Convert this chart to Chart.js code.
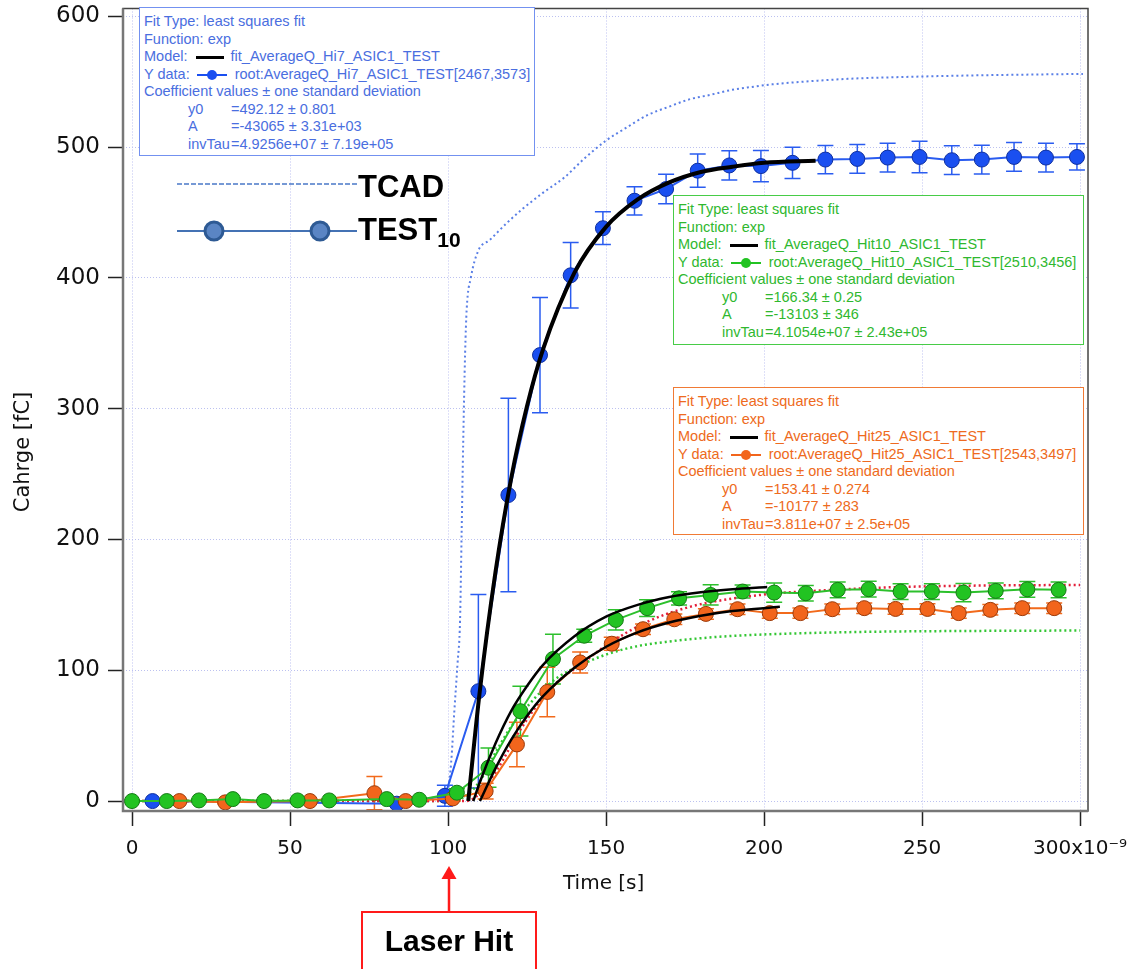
<!DOCTYPE html>
<html lang="en">
<head>
<meta charset="UTF-8">
<title>Average charge vs time</title>
<script src="https://cdn.jsdelivr.net/npm/chart.js"></script>
<style>
  body { margin: 0; background: #fff; }
  #wrap { position: relative; width: 1128px; height: 969px; overflow: hidden; }
  canvas, svg { position: absolute; left: 0; top: 0; }
  .fitbox { position: absolute; background: #fff; border: 1.5px solid; box-sizing: border-box;
            font-family: "Liberation Sans", Arial, sans-serif; font-size: 14.5px; line-height: 17.5px;
            padding: 5px 0 0 4px; white-space: nowrap; }
  .fitbox .ind { padding-left: 44px; }
  .fitbox .nm { display: inline-block; width: 43px; }
  .sw-line { display: inline-block; width: 28px; height: 3px; background: #000; vertical-align: middle; margin: 0 7px 0 4px; }
  .sw-pt { display: inline-block; position: relative; width: 30px; height: 2px; vertical-align: middle; margin: 0 8px 0 3px; }
  .sw-pt i { position: absolute; left: 10px; top: -4px; width: 10px; height: 10px; border-radius: 50%; background: inherit; }
  .big { position: absolute; font-family: "Liberation Sans", Arial, sans-serif; font-weight: bold; font-size: 31px; line-height: 31px; color: #000; }
  .big span { font-size: 21px; position: relative; top: 7px; }
  #laser { position: absolute; left: 361px; top: 911px; width: 176px; height: 70px; box-sizing: border-box;
           border: 2px solid #ff1a1a; text-align: center; padding-top: 13px;
           font-family: "Liberation Sans", Arial, sans-serif; font-weight: bold; font-size: 30px; line-height: 30px; }
</style>
</head>
<body>
<div id="wrap">
  <canvas id="chart" width="1128" height="969"></canvas>
  <svg width="1128" height="969">
    <line x1="177" y1="184" x2="357" y2="184" stroke="#4a78c8" stroke-width="1.6" stroke-dasharray="5 2"/>
    <line x1="177" y1="231" x2="357" y2="231" stroke="#4472b4" stroke-width="2"/>
    <circle cx="214" cy="231" r="9" fill="#5a85c4" stroke="#2e5a94" stroke-width="3"/>
    <circle cx="320" cy="231" r="9" fill="#5a85c4" stroke="#2e5a94" stroke-width="3"/>
    <line x1="449" y1="911" x2="449" y2="876" stroke="#ff1a1a" stroke-width="2.5"/>
    <polygon points="449,866 441.5,879 456.5,879" fill="#ff1a1a"/>
  </svg>

  <div class="fitbox" style="left:139px;top:7px;width:396px;height:149px;color:#4a6ee0;border-color:#7391f0">
    <div>Fit Type: least squares fit</div>
    <div>Function: exp</div>
    <div>Model: <span class="sw-line"></span>fit_AverageQ_Hi7_ASIC1_TEST</div>
    <div>Y data: <span class="sw-pt" style="background:#1a4ff0"><i></i></span>root:AverageQ_Hi7_ASIC1_TEST[2467,3573]</div>
    <div>Coefficient values ± one standard deviation</div>
    <div class="ind"><span class="nm">y0</span>=492.12 ± 0.801</div>
    <div class="ind"><span class="nm">A</span>=-43065 ± 3.31e+03</div>
    <div class="ind"><span class="nm">invTau</span>=4.9256e+07 ± 7.19e+05</div>
  </div>

  <div class="fitbox" style="left:673px;top:195px;width:411px;height:150px;color:#2fb82f;border-color:#48cc48">
    <div>Fit Type: least squares fit</div>
    <div>Function: exp</div>
    <div>Model: <span class="sw-line"></span>fit_AverageQ_Hit10_ASIC1_TEST</div>
    <div>Y data: <span class="sw-pt" style="background:#22c322"><i></i></span>root:AverageQ_Hit10_ASIC1_TEST[2510,3456]</div>
    <div>Coefficient values ± one standard deviation</div>
    <div class="ind"><span class="nm">y0</span>=166.34 ± 0.25</div>
    <div class="ind"><span class="nm">A</span>=-13103 ± 346</div>
    <div class="ind"><span class="nm">invTau</span>=4.1054e+07 ± 2.43e+05</div>
  </div>

  <div class="fitbox" style="left:673px;top:387px;width:411px;height:148px;color:#ee6a20;border-color:#f07a35">
    <div>Fit Type: least squares fit</div>
    <div>Function: exp</div>
    <div>Model: <span class="sw-line"></span>fit_AverageQ_Hit25_ASIC1_TEST</div>
    <div>Y data: <span class="sw-pt" style="background:#f2651c"><i></i></span>root:AverageQ_Hit25_ASIC1_TEST[2543,3497]</div>
    <div>Coefficient values ± one standard deviation</div>
    <div class="ind"><span class="nm">y0</span>=153.41 ± 0.274</div>
    <div class="ind"><span class="nm">A</span>=-10177 ± 283</div>
    <div class="ind"><span class="nm">invTau</span>=3.811e+07 ± 2.5e+05</div>
  </div>

  <div class="big" style="left:358px;top:171px">TCAD</div>
  <div class="big" style="left:358px;top:214px">TEST<span>10</span></div>
  <div id="laser">Laser Hit</div>
</div>

<script>
  const xTicks = [0, 50, 100, 150, 200, 250, 300];
  const yTicks = [0, 100, 200, 300, 400, 500, 600];

  // TCAD simulation (blue dotted)
  const tcadTime   = [0, 97, 99, 100, 101, 102, 103, 103.8, 104.3, 104.8, 105.4, 105.9, 107.2, 109.6, 113.2, 118.6, 123.7, 130, 136.9, 143, 150, 156.5, 163.1, 170, 176.3, 183, 189.4, 196, 202.5, 215, 228.8, 242, 255, 270, 285, 300.9];
  const tcadCharge = [0, 0, 3, 8, 30, 69, 105, 138, 205, 274, 342, 376, 400, 421, 429, 442, 453, 465, 477, 491, 505, 515, 524.5, 531, 536.5, 540, 543.6, 546, 548, 550.5, 552.5, 553.5, 554.3, 555, 555.5, 556];

  // dotted green and red reference curves
  const simGreenTime   = [0, 102, 105, 110, 115, 120, 125, 130, 135, 142, 150, 160, 170, 180, 190, 205, 230, 260, 300];
  const simGreenCharge = [0, 0, 3, 15, 37, 57, 72, 85, 95, 104, 112, 118.5, 122, 124.5, 126.3, 127.8, 129.3, 130, 130.4];
  const simRedTime   = [0, 105, 107.4, 110, 115, 123, 130, 135, 141.8, 150, 163, 176.8, 190.5, 204.3, 218, 231.8, 245, 259.3, 280, 300];
  const simRedCharge = [0, 0, 1, 6, 22, 55, 79, 92, 104, 119, 137, 148.7, 155, 158.9, 161, 162.7, 163.8, 164.5, 165, 165.2];

  // measured average charge, Hit7 (blue)
  const hit7Time   = [6.5, 83.8, 99, 109.6, 119.1, 129.1, 138.8, 149, 159, 169, 179, 189, 199, 209, 219.4, 229.5, 239.1, 249.2, 259.4, 268.9, 279.1, 289.2, 299];
  const hit7Charge = [0, -2, 4, 84, 234, 341, 402, 438, 459, 468, 482, 486, 485.5, 488, 490.5, 491, 492, 492.5, 490, 490.5, 492.5, 492, 492.5];
  const hit7Err    = [1, 2, 8, 74, 74, 44, 25, 12.5, 10.8, 11.2, 12.7, 11.2, 12, 12, 10.8, 11, 11, 12, 11, 11, 11, 11, 10];

  // Hit10 (green)
  const hit10Time   = [0, 11, 21.2, 31.9, 41.8, 52.4, 62.4, 80.6, 90.9, 102.8, 112.8, 122.9, 133.2, 143.1, 153.1, 163, 173.1, 183.1, 193.2, 203.2, 213.2, 223.3, 233.1, 243.2, 253.1, 263.1, 273.3, 283.3, 293.2];
  const hit10Charge = [0, 0, 0.5, 1.5, 0, 0.5, 0.5, 1.5, 1, 6.4, 25.5, 68.7, 108.6, 126.4, 138.5, 147.5, 155, 157.6, 160.2, 159.4, 158.9, 161.5, 162, 160.2, 160.2, 159.4, 160.7, 161.9, 161.5];
  const hit10Err    = [1, 1, 1, 1, 1, 1, 1, 1, 1, 3, 15, 19, 19, 5, 7.7, 6.4, 5, 7.7, 5, 7.3, 6, 6, 6, 6, 6, 7, 6, 6, 6];

  // Hit25 (orange)
  const hit25Time   = [15, 29.5, 56.3, 76.7, 86.6, 101.5, 111.9, 121.8, 131.4, 141.8, 151.8, 161.7, 171.6, 181.6, 191.6, 201.8, 211.5, 221.6, 231.7, 241.6, 251.7, 261.6, 271.6, 281.7, 291.8];
  const hit25Charge = [0, -1, 0, 6, 0, 2, 7.6, 43.3, 83.4, 106, 120.3, 131.4, 139, 143.1, 146.7, 143.7, 143.7, 146.7, 147.5, 146.9, 146.9, 143.7, 146.2, 147.5, 147.5];
  const hit25Err    = [1, 1, 1, 12.7, 1, 2, 6, 17, 19, 8, 5, 4, 4, 4, 4, 4, 4, 4, 4, 4, 4, 4, 4, 4, 4];

  // exp fits (black)
  const fit7Time    = [106.4, 110, 115, 120, 125, 130, 140, 150, 160, 170, 180, 190, 200, 216.3];
  const fit7Charge  = [0, 83, 175, 247, 302, 345, 404, 439, 460, 473, 481, 485, 488, 489.5];
  const fit10Time   = [108, 110, 115, 120, 125, 130, 140, 150, 160, 170, 180, 190, 201];
  const fit10Charge = [0, 14, 44, 69, 88, 104, 126, 141, 150, 156, 159.6, 162, 163.7];
  const fit25Time   = [110.1, 115, 120, 125, 130, 140, 150, 160, 170, 180, 190, 205];
  const fit25Charge = [0, 25, 47, 65, 80, 102, 118, 129, 136.5, 141.7, 145.3, 148.5];

  const pts = (xs, ys) => xs.map((x, i) => ({x: x, y: ys[i]}));

  const fitLine = (xs, ys, w) => ({
    data: pts(xs, ys), borderColor: '#000', borderWidth: w, pointRadius: 0,
    cubicInterpolationMode: 'monotone'
  });
  const measured = (xs, ys, err, line, fill, edge) => ({
    data: pts(xs, ys), errorBars: err, errorColor: line,
    borderColor: line, borderWidth: 2, tension: 0,
    pointRadius: 7.5, pointBackgroundColor: fill, pointBorderColor: edge, pointBorderWidth: 1
  });
  const dotted = (xs, ys, color, w) => ({
    data: pts(xs, ys), borderColor: color, borderWidth: w, borderDash: [2, 3],
    pointRadius: 0, cubicInterpolationMode: 'monotone'
  });

  // draw order: first dataset ends up on top
  const datasets = [
    fitLine(fit7Time, fit7Charge, 4),
    fitLine(fit10Time, fit10Charge, 2.5),
    fitLine(fit25Time, fit25Charge, 2.5),
    measured(hit10Time, hit10Charge, hit10Err, '#2cc02c', '#22c322', '#167a16'),
    measured(hit25Time, hit25Charge, hit25Err, '#f26a1b', '#f2651c', '#9a3a0a'),
    measured(hit7Time, hit7Charge, hit7Err, '#2a5cf0', '#1a4ff0', '#10309e'),
    dotted(simRedTime, simRedCharge, '#e3203a', 2.5),
    dotted(simGreenTime, simGreenCharge, '#33c633', 2.5),
    dotted(tcadTime, tcadCharge, '#5a7fe6', 2)
  ];

  const errorBars = {
    id: 'errorBars',
    beforeDatasetsDraw(chart) {
      const {ctx, chartArea: a, scales: {x, y}} = chart;
      ctx.save();
      ctx.beginPath();
      ctx.rect(a.left, a.top, a.right - a.left, a.bottom - a.top);
      ctx.clip();
      ctx.lineWidth = 1.5;
      chart.data.datasets.forEach(ds => {
        if (!ds.errorBars) return;
        ctx.strokeStyle = ds.errorColor;
        ds.data.forEach((p, i) => {
          const e = ds.errorBars[i];
          const px = x.getPixelForValue(p.x);
          const top = y.getPixelForValue(p.y + e);
          const bot = y.getPixelForValue(p.y - e);
          ctx.beginPath();
          ctx.moveTo(px, top); ctx.lineTo(px, bot);
          ctx.moveTo(px - 8, top); ctx.lineTo(px + 8, top);
          ctx.moveTo(px - 8, bot); ctx.lineTo(px + 8, bot);
          ctx.stroke();
        });
      });
      ctx.restore();
    }
  };

  const frame = {
    id: 'frame',
    afterDraw(chart) {
      const {ctx, chartArea: a} = chart;
      ctx.save();
      ctx.strokeStyle = '#444';
      ctx.lineWidth = 1.5;
      ctx.strokeRect(a.left, a.top, a.right - a.left, a.bottom - a.top);
      ctx.strokeStyle = '#777';
      ctx.lineWidth = 2.5;
      ctx.beginPath();
      ctx.moveTo(a.left, a.top); ctx.lineTo(a.left, a.bottom); ctx.lineTo(a.right, a.bottom);
      ctx.stroke();
      // axis titles
      ctx.fillStyle = '#111';
      ctx.textAlign = 'left';
      ctx.font = '20px "DejaVu Sans"';
      ctx.fillText('Time [s]', 563, 889);
      ctx.translate(24, 452);
      ctx.rotate(-Math.PI / 2);
      ctx.textAlign = 'center';
      ctx.textBaseline = 'middle';
      ctx.font = '21px "DejaVu Sans"';
      ctx.fillText('Cahrge [fC]', 0, 0);
      ctx.restore();
    }
  };

  new Chart(document.getElementById('chart'), {
    type: 'line',
    data: { datasets: datasets },
    options: {
      responsive: false,
      animation: false,
      devicePixelRatio: 1,
      layout: { padding: { top: 8, right: 40, left: 0, bottom: 0 } },
      plugins: { legend: { display: false }, tooltip: { enabled: false } },
      scales: {
        x: {
          type: 'linear', min: -2.85, max: 302.5,
          afterBuildTicks: s => { s.ticks = xTicks.map(v => ({ value: v })); },
          afterFit: s => { s.height = 158; s.paddingLeft = 0; s.paddingRight = 0; },
          grid: { color: '#bcc1f0', lineWidth: 1, tickLength: 15, tickColor: '#222', tickWidth: 1.5, tickBorderDash: [] },
          border: { display: false, dash: [1, 2] },
          ticks: {
            padding: 11, color: '#111', maxRotation: 0, autoSkip: false,
            font: { family: 'DejaVu Sans', size: 20 },
            callback: v => v === 300 ? '300x10⁻⁹' : String(v)
          }
        },
        y: {
          type: 'linear', min: -7.6, max: 606,
          afterBuildTicks: s => { s.ticks = yTicks.map(v => ({ value: v })); },
          afterFit: s => { s.width = 123; s.paddingTop = 0; s.paddingBottom = 0; },
          grid: { color: '#bcc1f0', lineWidth: 1, tickLength: 15, tickColor: '#222', tickWidth: 1.5, tickBorderDash: [] },
          border: { display: false, dash: [1, 2] },
          ticks: {
            padding: 8, color: '#111', autoSkip: false,
            font: { family: 'DejaVu Sans', size: 23 },
            callback: v => String(v)
          }
        }
      }
    },
    plugins: [errorBars, frame]
  });
</script>
</body>
</html>
